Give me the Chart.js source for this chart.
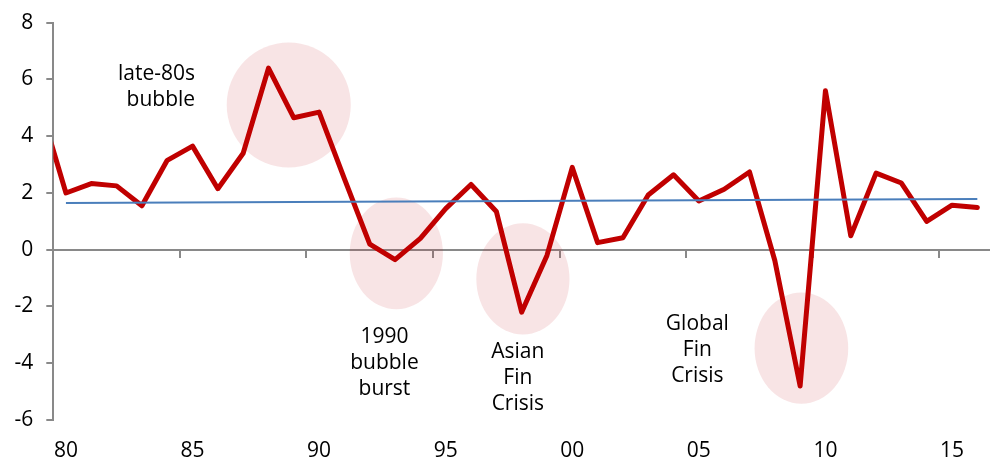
<!DOCTYPE html>
<html>
<head>
<meta charset="utf-8">
<script src="https://cdn.jsdelivr.net/npm/chart.js@4.4.0/dist/chart.umd.min.js"></script>
<style>
  html, body { margin: 0; padding: 0; background: #fff; }
  #wrap { width: 990px; height: 457px; }
</style>
</head>
<body>
<div id="wrap"><canvas id="growth-chart"></canvas></div>
<script>
// real GDP growth, % y/y
const years = [1979, 1980, 1981, 1982, 1983, 1984, 1985, 1986, 1987, 1988, 1989,
  1990, 1991, 1992, 1993, 1994, 1995, 1996, 1997, 1998, 1999,
  2000, 2001, 2002, 2003, 2004, 2005, 2006, 2007, 2008, 2009,
  2010, 2011, 2012, 2013, 2014, 2015, 2016];
const growth = [5.0, 2.0, 2.33, 2.25, 1.55, 3.15, 3.65, 2.15, 3.4, 6.4, 4.65,
  4.85, 2.5, 0.2, -0.35, 0.4, 1.45, 2.3, 1.35, -2.2, -0.2,
  2.9, 0.25, 0.42, 1.93, 2.64, 1.72, 2.13, 2.74, -0.38, -4.8,
  5.6, 0.49, 2.7, 2.35, 1.0, 1.57, 1.49];

// linear trend end points
const trendYears = [1980, 2016];
const trendValues = [1.65, 1.79];

const tickYears = [1980, 1985, 1990, 1995, 2000, 2005, 2010, 2015];
const tickLabels = ['80', '85', '90', '95', '00', '05', '10', '15'];

// shaded episodes: centre in (year, value), half-sizes in years / value units
const bubbles = [
  { year: 1988.8, value: 5.1, rx: 2.45, ry: 2.2 },
  { year: 1993.05, value: -0.13, rx: 1.84, ry: 1.97 },
  { year: 1998.05, value: -1.03, rx: 1.84, ry: 1.96 },
  { year: 2009.05, value: -3.47, rx: 1.85, ry: 1.96 }
];

// captions, anchored at the first line's baseline
const notes = [
  { lines: ['late-80s', 'bubble'], year: 1985.1, value: 5.98, align: 'right' },
  { lines: ['1990', 'bubble', 'burst'], year: 1992.58, value: -3.29, align: 'center' },
  { lines: ['Asian', 'Fin', 'Crisis'], year: 1997.85, value: -3.83, align: 'center' },
  { lines: ['Global', 'Fin', 'Crisis'], year: 2004.94, value: -2.83, align: 'center' }
];

const axisGrey = '#898989';
const fontFamily = '"Open Sans", "Noto Sans", sans-serif';
const tickFont = { family: fontFamily, size: 21 };

const bubblePlugin = {
  id: 'bubbles',
  beforeDatasetsDraw(chart) {
    const { ctx, scales: { x, y } } = chart;
    ctx.save();
    ctx.fillStyle = 'rgba(200, 30, 40, 0.12)';
    bubbles.forEach(b => {
      const cx = x.getPixelForValue(b.year);
      const cy = y.getPixelForValue(b.value);
      const rx = Math.abs(x.getPixelForValue(b.year + b.rx) - cx);
      const ry = Math.abs(y.getPixelForValue(b.value + b.ry) - cy);
      ctx.beginPath();
      ctx.ellipse(cx, cy, rx, ry, 0, 0, Math.PI * 2);
      ctx.fill();
    });
    ctx.restore();
  }
};

const notePlugin = {
  id: 'notes',
  afterDatasetsDraw(chart) {
    const { ctx, scales: { x, y } } = chart;
    ctx.save();
    ctx.font = '21px ' + fontFamily;
    ctx.fillStyle = '#000';
    ctx.textBaseline = 'alphabetic';
    notes.forEach(n => {
      const px = x.getPixelForValue(n.year);
      const py = y.getPixelForValue(n.value);
      ctx.textAlign = n.align;
      n.lines.forEach((line, i) => ctx.fillText(line, px, py + i * 26));
    });
    ctx.restore();
  }
};

const ctx = document.getElementById('growth-chart').getContext('2d');
new Chart(ctx, {
  type: 'line',
  data: {
    datasets: [
      {
        label: 'GDP growth',
        data: years.map((yr, i) => ({ x: yr, y: growth[i] })),
        borderColor: '#c00000',
        borderWidth: 5,
        borderJoinStyle: 'round',
        borderCapStyle: 'round',
        pointRadius: 0,
        tension: 0,
        clip: 0,
        order: 1
      },
      {
        label: 'Trend',
        data: trendYears.map((yr, i) => ({ x: yr, y: trendValues[i] })),
        borderColor: '#4a7ebb',
        borderWidth: 2,
        pointRadius: 0,
        order: 0
      }
    ]
  },
  options: {
    responsive: true,
    maintainAspectRatio: false,
    animation: false,
    layout: { padding: { top: 22.7, left: 0, right: 0, bottom: 0 } },
    plugins: {
      legend: { display: false },
      tooltip: { enabled: false }
    },
    scales: {
      x: {
        type: 'linear',
        min: 1979.5,
        max: 2016.5,
        afterBuildTicks: s => { s.ticks = tickYears.map(v => ({ value: v })); },
        afterFit: s => { s.height = 37; },
        ticks: {
          callback: (v, i) => tickLabels[i],
          autoSkip: false,
          maxRotation: 0,
          padding: 18,
          font: tickFont,
          color: '#000'
        },
        grid: { display: false, drawTicks: false },
        border: { display: false }
      },
      // zero line with year boundary tick marks
      x0: {
        type: 'linear',
        position: { y: 0 },
        min: 1979.5,
        max: 2016.5,
        afterBuildTicks: s => { s.ticks = tickYears.map(v => ({ value: v - 0.5 })); },
        afterFit: s => { s.height = 0; },
        ticks: { display: false },
        grid: { drawOnChartArea: false, tickLength: 7, color: axisGrey, lineWidth: 2 },
        border: { color: axisGrey, width: 2 }
      },
      y: {
        min: -6,
        max: 8,
        afterFit: s => {
          s.width = 53.3;
          s.paddingTop = 0;
          s.paddingBottom = 0;
        },
        ticks: { stepSize: 2, padding: 13, font: tickFont, color: '#000' },
        grid: { drawOnChartArea: false, tickLength: 7, color: axisGrey, lineWidth: 2 },
        border: { color: axisGrey, width: 2 }
      }
    }
  },
  plugins: [bubblePlugin, notePlugin]
});
</script>
</body>
</html>
